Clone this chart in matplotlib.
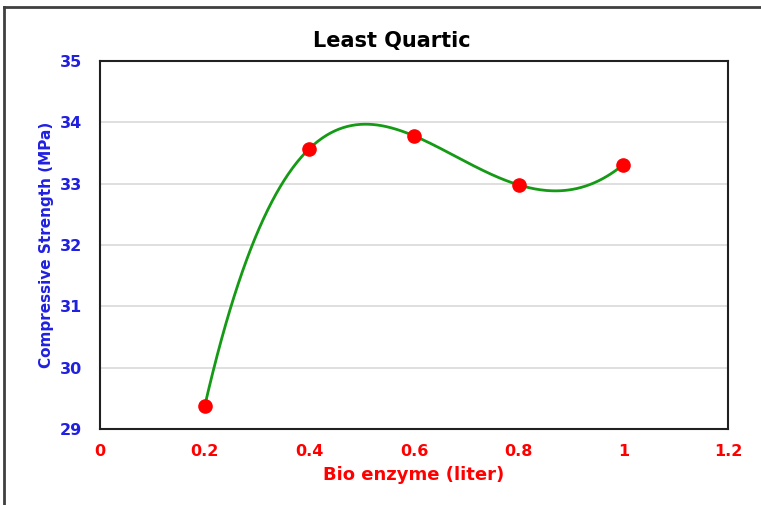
import numpy as np
import matplotlib.pyplot as plt
from matplotlib.lines import Line2D

plt.rcParams['font.family'] = ['DejaVu Sans']

enzyme = [0.2, 0.4, 0.6, 0.8, 1.0]
strength = [29.37, 33.57, 33.78, 32.98, 33.31]
xticks = [0, 0.2, 0.4, 0.6, 0.8, 1, 1.2]
xticklabels = ['0', '0.2', '0.4', '0.6', '0.8', '1', '1.2']
yticks = [29, 30, 31, 32, 33, 34, 35]

# least quartic fit through the points
coef = np.polyfit(enzyme, strength, 4)
xs = np.linspace(min(enzyme), max(enzyme), 300)
ys = np.polyval(coef, xs)

fig = plt.figure(figsize=(7.61, 5.05), dpi=100)
ax = fig.add_axes([100/761, 1-429/505, 628/761, 368/505])

ax.plot(xs, ys, color='#159a15', lw=2, zorder=3)
ax.plot(enzyme, strength, 'o', color='red', ms=9.5, mec='red', zorder=4)

ax.set_xlim(0, 1.2)
ax.set_ylim(29, 35)
ax.set_xticks(xticks)
ax.set_xticklabels(xticklabels)
ax.set_yticks(yticks)
ax.grid(axis='y', color='#d9d9d9', lw=1.2)
ax.set_axisbelow(True)
ax.tick_params(length=0, labelsize=11.5)
ax.tick_params(axis='x', pad=11, labelcolor='red')
ax.tick_params(axis='y', pad=13, labelcolor='#2020e0')
for lab in ax.get_xticklabels() + ax.get_yticklabels():
    lab.set_fontweight('bold')
for sp in ax.spines.values():
    sp.set_linewidth(1.5)
    sp.set_color('#202020')

ax.set_xlabel('Bio enzyme (liter)', color='red', fontsize=13, fontweight='bold')
ax.xaxis.set_label_coords(0.5, -(466-429)/368)
ax.set_ylabel('Compressive Strength (MPa)', color='#2020e0', fontsize=11, fontweight='bold')
ax.yaxis.set_label_coords(-(100-54)/628, 0.5)
fig.text(392/761, 1-41/505, 'Least Quartic', ha='center', va='center', fontsize=15, fontweight='bold')

# outer frame (top and left edges)
fig.add_artist(Line2D([4/761, 1], [1-7/505, 1-7/505], color='#404040', lw=2, transform=fig.transFigure))
fig.add_artist(Line2D([4/761, 4/761], [0, 1-7/505], color='#404040', lw=2, transform=fig.transFigure))

fig.savefig('out.png', dpi=100)
